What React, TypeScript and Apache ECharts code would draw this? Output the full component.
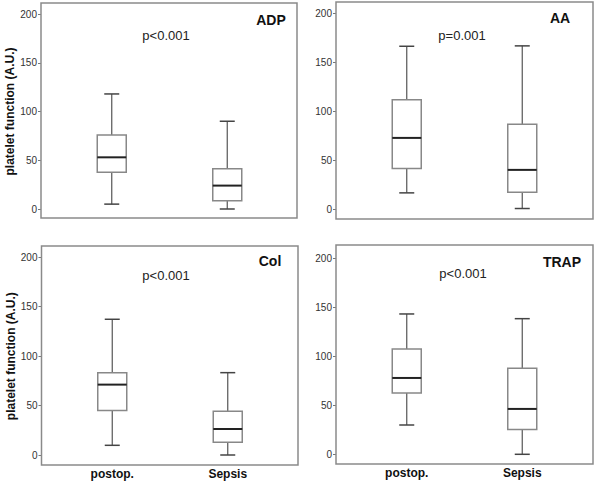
import React, { useEffect, useRef } from "react";
import * as echarts from "echarts";

// categories and tick labels
const groups = ["postop.", "Sepsis"];
const yTicks = [0, 50, 100, 150, 200];

// box statistics per group: [min, Q1, median, Q3, max]
const adpPostop = [5, 37.6, 53, 76, 118];
const adpSepsis = [0, 8.5, 24, 41.4, 90];
const aaPostop = [16.7, 41.6, 72.9, 112, 166.6];
const aaSepsis = [0.7, 17.4, 40.2, 86.9, 167];
const colPostop = [9.8, 44.9, 71.2, 83.3, 137.3];
const colSepsis = [0, 12.8, 26.3, 44.2, 83.3];
const trapPostop = [29.9, 62.6, 77.9, 107.5, 143.2];
const trapSepsis = [0, 25.2, 46.3, 87.8, 138.4];

const agonists = ["ADP", "AA", "Col", "TRAP"];
const pValues = ["p<0.001", "p=0.001", "p<0.001", "p<0.001"];
const panelData = [
  [adpPostop, adpSepsis],
  [aaPostop, aaSepsis],
  [colPostop, colSepsis],
  [trapPostop, trapSepsis],
];

const FONT = "'Liberation Sans', Arial, Helvetica, sans-serif";

// layout (pixels)
const frames = [
  { x: 41, y: 3, w: 256, h: 215 },
  { x: 336, y: 2, w: 257, h: 217 },
  { x: 41.5, y: 246, w: 256.5, h: 219 },
  { x: 336, y: 245, w: 257, h: 219 },
];
const plotAreas = [
  { top: 14, bottom: 209 },
  { top: 13.6, bottom: 209.2 },
  { top: 257.3, bottom: 455 },
  { top: 258.3, bottom: 454.3 },
];
const titlePos = [
  { x: 271, y: 20 },
  { x: 560, y: 18 },
  { x: 270, y: 261 },
  { x: 562, y: 262 },
];
const pPos = [
  { x: 166, y: 35 },
  { x: 462, y: 35 },
  { x: 166, y: 275 },
  { x: 463, y: 273 },
];

export default function App() {
  const ref = useRef<HTMLDivElement>(null);
  useEffect(() => {
    if (!ref.current) return;
    const chart = echarts.init(ref.current, undefined, { renderer: "svg" });

    const grids: any[] = [];
    const xAxes: any[] = [];
    const yAxes: any[] = [];
    const series: any[] = [];
    const graphics: any[] = [];

    for (let i = 0; i < 4; i++) {
      const f = frames[i];
      const pa = plotAreas[i];
      const isLeft = i % 2 === 0;
      const isBottom = i >= 2;
      const innerLeft = f.x + 13;
      grids.push({
        left: innerLeft,
        width: 231,
        top: pa.top,
        height: pa.bottom - pa.top,
      });
      xAxes.push({
        type: "category",
        gridIndex: i,
        data: groups,
        offset: f.y + f.h - pa.bottom,
        axisLine: { show: false },
        axisTick: { show: false },
        axisLabel: {
          show: isBottom,
          fontFamily: FONT,
          fontSize: 12,
          fontWeight: "bold",
          color: "#111",
          margin: 3,
        },
        splitLine: { show: false },
      });
      yAxes.push({
        type: "value",
        gridIndex: i,
        min: 0,
        max: 200,
        interval: 50,
        offset: 13,
        name: isLeft ? "platelet function (A.U.)" : "",
        nameLocation: "middle",
        nameGap: 23,
        nameTextStyle: {
          fontFamily: FONT,
          fontSize: 12,
          fontWeight: "bold",
          color: "#111",
        },
        axisLine: { show: false },
        axisTick: { show: true, length: 3, lineStyle: { color: "#777" } },
        axisLabel: {
          fontFamily: FONT,
          fontSize: 10,
          color: "#333",
          margin: 4,
          formatter: (v: number) => (yTicks.includes(v) ? String(v) : ""),
        },
        splitLine: { show: false },
      });
      series.push({
        type: "custom",
        xAxisIndex: i,
        yAxisIndex: i,
        encode: { x: 0, y: [1, 2, 3, 4, 5] },
        data: panelData[i].map((d, k) => [k, ...d]),
        renderItem: (params: any, api: any) => {
          const x = api.value(0);
          const vMin = api.coord([x, api.value(1)]);
          const vQ1 = api.coord([x, api.value(2)]);
          const vMed = api.coord([x, api.value(3)]);
          const vQ3 = api.coord([x, api.value(4)]);
          const vMax = api.coord([x, api.value(5)]);
          const cx = vMed[0];
          const bw = 29;
          const cw = 15;
          return {
            type: "group",
            children: [
              {
                type: "line",
                shape: { x1: cx, y1: vQ3[1], x2: cx, y2: vMax[1] },
                style: { stroke: "#555", lineWidth: 1.2 },
              },
              {
                type: "line",
                shape: { x1: cx, y1: vQ1[1], x2: cx, y2: vMin[1] },
                style: { stroke: "#555", lineWidth: 1.2 },
              },
              {
                type: "line",
                shape: { x1: cx - cw / 2, y1: vMax[1], x2: cx + cw / 2, y2: vMax[1] },
                style: { stroke: "#444", lineWidth: 1.5 },
              },
              {
                type: "line",
                shape: { x1: cx - cw / 2, y1: vMin[1], x2: cx + cw / 2, y2: vMin[1] },
                style: { stroke: "#444", lineWidth: 1.5 },
              },
              {
                type: "rect",
                shape: { x: cx - bw / 2, y: vQ3[1], width: bw, height: vQ1[1] - vQ3[1] },
                style: { fill: "#fff", stroke: "#888", lineWidth: 1.5 },
              },
              {
                type: "line",
                shape: { x1: cx - bw / 2, y1: vMed[1], x2: cx + bw / 2, y2: vMed[1] },
                style: { stroke: "#222", lineWidth: 2 },
              },
            ],
          };
        },
      });
      graphics.push({
        type: "rect",
        shape: { x: f.x, y: f.y, width: f.w, height: f.h },
        style: { fill: "none", stroke: "#8a8a8a", lineWidth: 1.5 },
        z: 10,
      });
      graphics.push({
        type: "text",
        x: titlePos[i].x,
        y: titlePos[i].y,
        style: {
          text: agonists[i],
          font: `bold 14px ${FONT}`,
          fill: "#111",
          textAlign: "center",
          textVerticalAlign: "middle",
        },
      });
      graphics.push({
        type: "text",
        x: pPos[i].x,
        y: pPos[i].y,
        style: {
          text: pValues[i],
          font: `13px ${FONT}`,
          fill: "#222",
          textAlign: "center",
          textVerticalAlign: "middle",
        },
      });
    }

    chart.setOption({
      animation: false,
      backgroundColor: "#fff",
      grid: grids,
      xAxis: xAxes,
      yAxis: yAxes,
      series,
      graphic: graphics,
    });
    return () => chart.dispose();
  }, []);
  return (
    <div
      ref={ref}
      style={{ position: "fixed", left: 0, top: 0, width: 600, height: 487 }}
    />
  );
}
